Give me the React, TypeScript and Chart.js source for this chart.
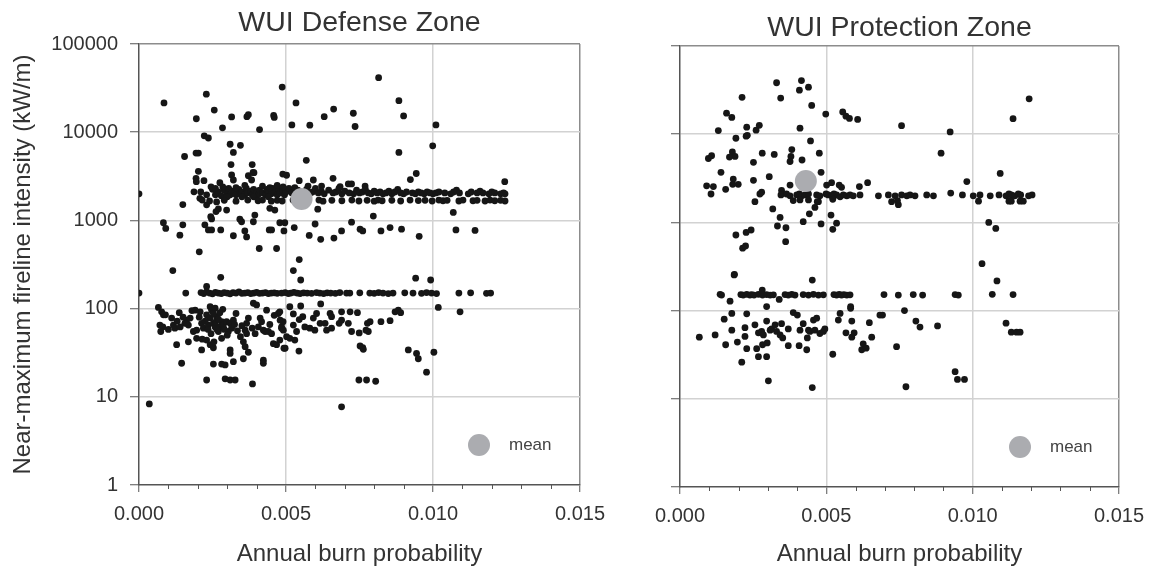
import React, { useEffect, useRef } from "react";
import { Chart, registerables } from "chart.js";

Chart.register(...registerables);

type P = [number, number];

// ---------- axes ----------
const xMajorTicks = [0, 0.005, 0.01, 0.015];
const xMinorTicks = [0.001, 0.002, 0.003, 0.004, 0.006, 0.007, 0.008, 0.009, 0.011, 0.012, 0.013, 0.014];
const yTicks = [1, 10, 100, 1000, 10000, 100000];

// ---------- WUI Defense Zone ----------
const defenseHigh: P[] = [
  [0.00085, 21500], [0.00229, 27000], [0.00487, 32500], [0.00815, 41500], [0.00256, 17800], [0.00195, 14200],
  [0.00315, 14900], [0.00367, 15000], [0.00372, 15800], [0.00458, 15500], [0.0046, 14700], [0.00534, 21500],
  [0.0063, 15000], [0.00662, 18300], [0.00729, 16400], [0.00735, 11600], [0.00884, 22800], [0.009, 15300],
  [0.0101, 12100], [0.00284, 11200], [0.0041, 10700], [0.0052, 12100], [0.00581, 12000], [0.00222, 9100],
  [0.00236, 8600], [0.0031, 7300], [0.00345, 7100], [0.00321, 5900], [0.00194, 5800], [0.00202, 5800],
  [0.00155, 5300], [0.00884, 5900], [0.00999, 7000], [0.00569, 4800], [0.00313, 4300], [0.00385, 4300],
  [0.00202, 3600], [0.00388, 3500], [0.00943, 3400], [0.00923, 2900], [0.00489, 3350], [0.00502, 3250],
  [0.00315, 3270], [0.00372, 3210], [0.00391, 3480], [0.00383, 2870], [0.00321, 2870], [0.0066, 3000],
  [0.00194, 3000], [0.00195, 2750], [0.00221, 2820], [0.00245, 2400], [0.00275, 2680], [0.00712, 2590],
  [0.00723, 2590], [0.01244, 2750], [0.00545, 2820], [0.00593, 2870], [0.00621, 2450], [0.00684, 2410],
  [0.00769, 2450], [0.00187, 2110], [0.00207, 1780], [0.0023, 1500], [0.00149, 1510], [0.00264, 1620],
];

const defenseBandUpper: P[] = [
  [0.0021, 2100], [0.0023, 1950], [0.0025, 2250], [0.0026, 1950], [0.0027, 2100], [0.0028, 1900], [0.0029, 2200],
  [0.003, 2000], [0.00305, 2300], [0.0031, 1950], [0.0032, 2150], [0.00325, 2050], [0.0033, 1950], [0.0034, 2250],
  [0.00345, 2000], [0.0035, 2100], [0.0036, 1950], [0.00365, 2300], [0.0037, 2050], [0.0038, 2150], [0.00385, 1950],
  [0.0039, 2250], [0.004, 2050], [0.00405, 1950], [0.0041, 2200], [0.0042, 2050], [0.0043, 1950], [0.00435, 2250],
  [0.0044, 2100], [0.0045, 2000], [0.00455, 2300], [0.0046, 2150], [0.0047, 1950], [0.00475, 2250], [0.0048, 2050],
  [0.0049, 2200], [0.00495, 1950], [0.005, 2100], [0.0051, 2300], [0.0052, 2050], [0.0053, 2000], [0.0054, 2200],
  [0.0056, 2050], [0.0057, 2250], [0.0058, 2000], [0.0059, 2100], [0.006, 2300], [0.0061, 2050], [0.0062, 2150],
  [0.0063, 2000], [0.00645, 2200], [0.0066, 2050], [0.0067, 2100], [0.0068, 2300], [0.0069, 2000], [0.007, 2150],
  [0.00715, 2050], [0.0073, 2000], [0.0074, 2200], [0.0075, 2050], [0.0076, 2100], [0.0077, 2250], [0.0078, 2050],
  [0.0079, 2000], [0.008, 2150], [0.0081, 2050], [0.0082, 2100], [0.0083, 2000], [0.0084, 2050], [0.0085, 2150],
  [0.0086, 2000], [0.0087, 2100], [0.0088, 2250], [0.0089, 2050], [0.009, 2000], [0.0091, 2100], [0.0093, 2050],
  [0.0094, 2000], [0.0095, 2100], [0.0096, 2050], [0.0097, 2000], [0.0098, 2100], [0.0099, 2050], [0.01, 2000],
  [0.0101, 2050], [0.0102, 2100], [0.0104, 2050], [0.0106, 2000], [0.0107, 2100], [0.0108, 2200], [0.0109, 2050],
  [0.0112, 2000], [0.0113, 2100], [0.0115, 2050], [0.0116, 2150], [0.0117, 2050], [0.0119, 2000], [0.012, 2100],
  [0.0121, 2050], [0.0123, 2000], [0.0124, 2050], [0.01245, 2000],
  [0.00285, 2400], [0.0033, 2350], [0.0036, 2500], [0.0042, 2450], [0.00445, 2350], [0.0047, 2500], [0.0049, 2400],
  [0.0053, 2350], [0.00575, 2450], [0.0026, 2300], [0.0039, 1850], [0.0044, 1850], [0.0035, 1850], [0.003, 1850],
];

const defenseBandLower: P[] = [
  [0.00215, 1700], [0.0024, 1660], [0.0029, 1690], [0.0033, 1650], [0.0037, 1700], [0.00405, 1670], [0.0042, 1700],
  [0.0045, 1650], [0.0047, 1690], [0.00487, 1660], [0.00524, 1700], [0.0055, 1680], [0.00612, 1700], [0.00626, 1650],
  [0.00656, 1690], [0.0069, 1670], [0.00724, 1700], [0.00748, 1660], [0.00776, 1690], [0.008, 1650], [0.00813, 1700],
  [0.00827, 1670], [0.0086, 1690], [0.0089, 1660], [0.00922, 1700], [0.0095, 1680], [0.00973, 1690], [0.00997, 1660],
  [0.0102, 1700], [0.01034, 1670], [0.01048, 1690], [0.01088, 1660], [0.01102, 1700], [0.01136, 1670],
  [0.0115, 1690], [0.01177, 1660], [0.01194, 1700], [0.0121, 1670], [0.0123, 1690], [0.01245, 1660],
];

const defenseMid: P[] = [
  [0, 2000], [0.00083, 940], [0.00091, 810], [0.00139, 680], [0.00149, 890], [0.00205, 440], [0.00224, 890],
  [0.00236, 780], [0.00247, 780], [0.00278, 780], [0.0027, 1350], [0.00262, 1260], [0.00244, 1100], [0.00247, 1040],
  [0.00298, 1310], [0.00343, 1030], [0.00349, 965], [0.00394, 1150], [0.00389, 965], [0.00445, 1370], [0.00462, 1310],
  [0.00321, 670], [0.0036, 760], [0.00366, 650], [0.00409, 480], [0.00468, 480], [0.00443, 780], [0.00451, 780],
  [0.00479, 940], [0.00496, 940], [0.00493, 760], [0.00528, 830], [0.00579, 676], [0.00599, 910], [0.00608, 1340],
  [0.00618, 610], [0.00663, 630], [0.00689, 760], [0.00723, 955], [0.00752, 795], [0.00761, 760], [0.00797, 1120],
  [0.00823, 760], [0.00854, 830], [0.00893, 795], [0.00953, 660], [0.01069, 1230], [0.01078, 780], [0.01143, 770],
  [0.00115, 270], [0.00278, 226], [0.0023, 178], [0.00545, 360], [0.00525, 270], [0.0055, 211], [0.00941, 221],
  [0.00992, 211],
];

const defenseBand150: P[] = [
  [0, 150], [0.00159, 150], [0.00211, 152], [0.0022, 148], [0.0023, 155], [0.0024, 150], [0.0025, 147], [0.0026, 153],
  [0.0027, 150], [0.0028, 148], [0.0029, 152], [0.003, 150], [0.0031, 147], [0.0032, 152], [0.0033, 150], [0.0034, 155],
  [0.0035, 149], [0.0036, 150], [0.0037, 152], [0.0038, 148], [0.0039, 150], [0.004, 153], [0.0041, 149], [0.0042, 150],
  [0.0043, 152], [0.0044, 148], [0.0045, 150], [0.0046, 151], [0.0047, 149], [0.00485, 150], [0.00497, 152],
  [0.00508, 148], [0.00516, 150], [0.00527, 153], [0.00538, 150], [0.00548, 148], [0.0056, 151], [0.00572, 150],
  [0.00587, 149], [0.00604, 152], [0.00615, 150], [0.00628, 148], [0.0064, 151], [0.00652, 150], [0.00668, 149],
  [0.00683, 152], [0.00706, 150], [0.00717, 150], [0.00751, 151], [0.00785, 150], [0.008, 149], [0.00815, 152],
  [0.0083, 150], [0.00848, 148], [0.00864, 150], [0.00904, 151], [0.00932, 150], [0.00961, 149], [0.00978, 152],
  [0.00995, 150], [0.01012, 148], [0.01088, 150], [0.01128, 151], [0.01182, 149], [0.01196, 150],
];

const defenseLow: P[] = [
  [0.00066, 103], [0.00077, 92], [0.00083, 85], [0.00111, 78], [0.00071, 65], [0.00081, 62], [0.00074, 55],
  [0.00117, 65], [0.00122, 60], [0.00137, 90], [0.00162, 74], [0.00156, 68], [0.00168, 65], [0.00174, 78],
  [0.00191, 96], [0.00208, 92], [0.00196, 57], [0.00213, 68], [0.00219, 60], [0.0023, 85], [0.00242, 105],
  [0.00247, 96], [0.00242, 78], [0.00236, 65], [0.00253, 68], [0.00259, 62], [0.00264, 81], [0.0027, 55],
  [0.00276, 62], [0.00281, 71], [0.00287, 65], [0.00298, 71], [0.0031, 68], [0.00321, 74], [0.00304, 55],
  [0.00315, 60], [0.00285, 98], [0.00259, 101], [0.00253, 88], [0.00281, 46], [0.0023, 44], [0.00242, 39],
  [0.00253, 36], [0.00213, 34], [0.00196, 46], [0.00168, 42], [0.00128, 39], [0.00145, 24], [0.0031, 34],
  [0.0031, 31], [0.00321, 25], [0.00253, 23.5], [0.00281, 23.5], [0.00293, 23], [0.00355, 42], [0.00361, 37],
  [0.00372, 32], [0.00355, 27], [0.00366, 68], [0.00372, 78], [0.00361, 57], [0.00366, 52], [0.00389, 115],
  [0.004, 110], [0.00412, 78], [0.00417, 71], [0.00406, 62], [0.00423, 57], [0.00434, 96], [0.00429, 55],
  [0.0044, 55], [0.00451, 52], [0.00457, 40], [0.00468, 39], [0.00474, 88], [0.0048, 74], [0.00485, 62],
  [0.00491, 57], [0.00497, 35.5], [0.00502, 48], [0.00423, 26], [0.00423, 24], [0.0023, 15.5], [0.00293, 16],
  [0.0031, 15.5], [0.00327, 15.5], [0.00386, 14], [0.00035, 8.3],
  [0.00225, 72], [0.00235, 58], [0.00245, 52], [0.0026, 70], [0.0027, 76], [0.0029, 58], [0.003, 50], [0.00325, 66],
  [0.00215, 45], [0.00205, 80], [0.00185, 55], [0.0015, 80], [0.0013, 72], [0.001, 58], [0.0009, 85], [0.00275, 90],
  [0.00335, 56], [0.00345, 48], [0.00385, 60], [0.00395, 52], [0.00445, 66], [0.0046, 84], [0.0014, 62], [0.0018, 95],
  [0.00255, 42], [0.00265, 58], [0.0033, 88], [0.0035, 64],
  [0.00513, 105], [0.0055, 107], [0.00618, 113], [0.00479, 92], [0.00525, 87], [0.00557, 81], [0.00545, 75],
  [0.0049, 71], [0.00485, 60], [0.00525, 65], [0.00536, 55], [0.00513, 46], [0.0053, 44], [0.00479, 44],
  [0.00493, 35.5], [0.00544, 33], [0.00564, 62], [0.00581, 60], [0.00598, 57], [0.00593, 78], [0.00604, 88],
  [0.00616, 68], [0.00633, 68], [0.00638, 57], [0.00655, 60], [0.0065, 88], [0.00655, 81], [0.00681, 68],
  [0.00689, 74], [0.00689, 92], [0.00718, 92], [0.00743, 90], [0.00712, 68], [0.00723, 55], [0.00749, 53],
  [0.00772, 57], [0.0078, 55], [0.00777, 68], [0.00786, 71], [0.00752, 37.7], [0.00761, 36], [0.00763, 34.5],
  [0.00823, 71], [0.00854, 73], [0.00871, 92], [0.00882, 96], [0.0089, 90], [0.00748, 15.5], [0.00774, 15.5],
  [0.00805, 15], [0.00689, 7.7], [0.00916, 34], [0.00944, 31], [0.0095, 27], [0.00978, 19], [0.01003, 32],
  [0.01018, 103], [0.01092, 92],
];

const defenseMean: P[] = [[0.00553, 1750]];

// ---------- WUI Protection Zone ----------
const protectionHigh: P[] = [
  [0.0033, 38300], [0.00415, 40500], [0.00408, 31600], [0.00439, 34100], [0.00212, 26200], [0.00344, 25700],
  [0.0045, 21200], [0.00498, 16900], [0.00556, 17900], [0.00567, 16000], [0.00579, 15100], [0.00607, 14700],
  [0.00159, 17300], [0.00177, 15500], [0.01193, 25200], [0.01138, 15000], [0.00757, 12500], [0.00923, 10600],
  [0.00131, 11000], [0.00228, 12000], [0.00226, 9500], [0.0026, 11100], [0.00271, 12600], [0.0041, 11700],
  [0.00191, 9000], [0.0023, 9700], [0.00446, 8400], [0.00179, 6300], [0.00188, 5600], [0.00169, 5500],
  [0.00097, 5300], [0.00108, 5700], [0.00281, 6100], [0.00322, 5900], [0.00382, 6700], [0.00379, 5600],
  [0.00376, 4900], [0.00417, 5100], [0.00476, 6100], [0.00251, 4800], [0.00892, 6100], [0.0014, 3700],
  [0.00182, 3100], [0.00199, 2700], [0.0018, 2700], [0.00305, 3300], [0.00251, 3000], [0.00482, 3700],
  [0.00091, 2600], [0.00114, 2550], [0.00156, 2370], [0.00347, 2300], [0.00376, 2650], [0.00501, 2650],
  [0.00518, 2820], [0.00544, 2650], [0.00552, 2500], [0.00613, 2550], [0.00641, 2820], [0.0098, 2900],
  [0.01094, 3590], [0.00279, 2200],
];

const protectionBand: P[] = [
  [0.00106, 2100], [0.00273, 2100], [0.00345, 2050], [0.00364, 2100], [0.00376, 2000], [0.00399, 2050],
  [0.00408, 2100], [0.00416, 2000], [0.00427, 2050], [0.00439, 2100], [0.00467, 2050], [0.00478, 2000],
  [0.00499, 2100], [0.00507, 2050], [0.00518, 2000], [0.00526, 2100], [0.00535, 2050], [0.00547, 1950],
  [0.00558, 2050], [0.0057, 2000], [0.00581, 2050], [0.00592, 2000], [0.00615, 2050], [0.00678, 2000],
  [0.00712, 2050], [0.00735, 2000], [0.00757, 2050], [0.00775, 2000], [0.00786, 2050], [0.00803, 2000],
  [0.00843, 2050], [0.00866, 2000], [0.00925, 2150], [0.00965, 2050], [0.01002, 2000], [0.01025, 2050],
  [0.0106, 2000], [0.0109, 2050], [0.01114, 2000], [0.01124, 2100], [0.01132, 2050], [0.01144, 2000],
  [0.01156, 2100], [0.01164, 2050], [0.01191, 2000], [0.01203, 2050],
  [0.00387, 1770], [0.0041, 1800], [0.00439, 1800], [0.00473, 1720], [0.00524, 1950], [0.00522, 1830],
  [0.00723, 1720], [0.00746, 1590], [0.00743, 1770], [0.0102, 1740], [0.01124, 1740], [0.01132, 1740],
  [0.01162, 1740], [0.01173, 1740], [0.00256, 1720],
];

const protectionMid: P[] = [
  [0.00317, 1420], [0.00342, 1140], [0.00333, 910], [0.00362, 870], [0.00361, 605], [0.00191, 720], [0.00226, 770],
  [0.00243, 820], [0.00214, 510], [0.00224, 540], [0.00186, 258], [0.00452, 222], [0.00421, 1020], [0.00442, 1250],
  [0.00461, 1480], [0.00469, 1720], [0.00482, 960], [0.00516, 1210], [0.00535, 980], [0.00522, 835], [0.01055, 1000],
  [0.01079, 855], [0.01032, 340], [0.01083, 217],
];

const protectionBand150: P[] = [
  [0.00137, 153], [0.00142, 150], [0.00208, 152], [0.00216, 150], [0.00228, 153], [0.00239, 150], [0.00245, 152],
  [0.00253, 150], [0.00268, 153], [0.00282, 150], [0.00296, 152], [0.00308, 150], [0.00319, 151], [0.00359, 152],
  [0.0037, 150], [0.00382, 153], [0.00393, 150], [0.00421, 152], [0.00439, 150], [0.00456, 153], [0.00473, 150],
  [0.0049, 151], [0.00526, 152], [0.00535, 150], [0.00544, 153], [0.00552, 150], [0.0056, 152], [0.0057, 150],
  [0.00581, 151], [0.00697, 152], [0.00746, 150], [0.00797, 152], [0.00829, 150], [0.0094, 152], [0.00951, 150],
  [0.01067, 153], [0.01138, 152], [0.00185, 254], [0.00281, 171], [0.00171, 128], [0.00339, 134], [0.00296, 111],
];

const protectionLow: P[] = [
  [0.00066, 50], [0.0012, 53], [0.00156, 41], [0.00151, 80], [0.00177, 93], [0.00177, 60], [0.00196, 44],
  [0.00211, 26], [0.00222, 64], [0.00222, 51], [0.00228, 92], [0.00228, 37], [0.00256, 69], [0.00262, 37],
  [0.00268, 30], [0.00268, 56], [0.00279, 58], [0.00285, 53], [0.00282, 41], [0.00296, 76], [0.00298, 43],
  [0.00296, 30], [0.00302, 16], [0.00308, 60], [0.00313, 62], [0.00325, 69], [0.0033, 58], [0.00342, 53],
  [0.00347, 71], [0.00351, 49], [0.0037, 62], [0.0037, 40], [0.00387, 95], [0.00401, 89], [0.0041, 60],
  [0.00407, 40], [0.00421, 71], [0.00433, 36], [0.00435, 49], [0.00439, 60], [0.00444, 58], [0.00456, 78],
  [0.00461, 60], [0.00467, 82], [0.00478, 55], [0.0049, 58], [0.00495, 62], [0.00452, 13.4], [0.00522, 32],
  [0.00541, 78], [0.00547, 93], [0.00567, 56], [0.00583, 111], [0.00583, 106], [0.00587, 76], [0.00587, 50],
  [0.00595, 56], [0.00626, 42], [0.00621, 36], [0.00636, 37.5], [0.00647, 73], [0.00655, 50], [0.00683, 89],
  [0.00692, 89], [0.0074, 39], [0.00767, 100], [0.00772, 13.7], [0.00806, 76], [0.0082, 65], [0.0088, 67],
  [0.0094, 20.3], [0.00948, 16.6], [0.00972, 16.6], [0.01114, 72], [0.01132, 57], [0.0115, 57], [0.01162, 57],
];

const protectionMean: P[] = [[0.0043, 2950]];

// ---------- styling ----------
const FONT = "'Liberation Sans', Arial, Helvetica, sans-serif";
const INK = "#333333";
const AXIS = "#555555";
const GRID = "#d2d2d2";
const FRAME = "#8c8c8c";
const DOT = "#161616";
const MEAN = "#abacb0";

interface PanelSpec {
  title: string;
  yTitle: string | null;
  groups: P[][];
  mean: P[];
  yWidth: number;
  xHeight: number;
  titlePad: { top: number; bottom: number };
  rightPad: number;
}

function buildConfig(spec: PanelSpec): any {
  const pts = spec.groups.flat().map(([x, y]) => ({ x, y }));
  const extras = {
    id: "extras",
    afterDraw(chart: any) {
      const { ctx, chartArea, scales } = chart;
      const xs = scales.x;
      ctx.save();
      ctx.strokeStyle = AXIS;
      ctx.lineWidth = 1;
      for (const v of xMinorTicks) {
        const px = Math.round(xs.getPixelForValue(v)) + 0.5;
        ctx.beginPath();
        ctx.moveTo(px, chartArea.bottom);
        ctx.lineTo(px, chartArea.bottom + 4);
        ctx.stroke();
      }
      const cx = chartArea.left + 340;
      const cy = chartArea.bottom - 40;
      ctx.fillStyle = MEAN;
      ctx.beginPath();
      ctx.arc(cx, cy, 11, 0, Math.PI * 2);
      ctx.fill();
      ctx.fillStyle = "#444444";
      ctx.font = `17px ${FONT}`;
      ctx.textBaseline = "middle";
      ctx.textAlign = "left";
      ctx.fillText("mean", cx + 30, cy);
      ctx.restore();
    },
  };

  return {
    type: "scatter",
    data: {
      datasets: [
        {
          label: "mean",
          data: spec.mean.map(([x, y]) => ({ x, y })),
          backgroundColor: MEAN,
          pointRadius: 11,
          pointBorderWidth: 0,
          order: 0,
        },
        {
          label: "points",
          data: pts,
          backgroundColor: DOT,
          pointRadius: 3.4,
          pointBorderWidth: 0,
          order: 1,
        },
      ],
    },
    options: {
      responsive: false,
      animation: false,
      events: [],
      layout: { padding: { left: 0, right: spec.rightPad, top: 0, bottom: 0 } },
      plugins: {
        legend: { display: false },
        tooltip: { enabled: false },
        title: {
          display: true,
          text: spec.title,
          fullSize: false,
          color: INK,
          font: { family: FONT, size: 28.5, weight: "normal", lineHeight: 1.2 },
          padding: spec.titlePad,
        },
      },
      scales: {
        x: {
          type: "linear",
          min: 0,
          max: 0.015,
          afterBuildTicks: (scale: any) => {
            scale.ticks = xMajorTicks.map((v) => ({ value: v }));
          },
          afterFit: (scale: any) => {
            scale.height = spec.xHeight;
          },
          ticks: {
            autoSkip: false,
            maxRotation: 0,
            color: INK,
            font: { family: FONT, size: 20 },
            padding: 10,
            callback: (v: any) => Number(v).toFixed(3),
          },
          grid: {
            color: (ctx: any) => {
              const v = ctx.tick ? ctx.tick.value : null;
              if (v === 0.015) return FRAME;
              if (v === 0.005 || v === 0.01) return GRID;
              return "rgba(0,0,0,0)";
            },
            lineWidth: 1.5,
            tickColor: AXIS,
            tickLength: 7,
            tickWidth: 1,
          },
          border: { color: AXIS, width: 1.5 },
          title: {
            display: true,
            text: "Annual burn probability",
            color: INK,
            font: { family: FONT, size: 24, lineHeight: 1.2 },
            padding: { top: 0, bottom: 2 },
          },
        },
        y: {
          type: "logarithmic",
          min: 1,
          max: 100000,
          afterBuildTicks: (scale: any) => {
            scale.ticks = yTicks.map((v) => ({ value: v }));
          },
          afterFit: (scale: any) => {
            scale.width = spec.yWidth;
          },
          ticks: {
            autoSkip: false,
            color: INK,
            font: { family: FONT, size: 20 },
            padding: 12,
            callback: (v: any) => (spec.yTitle ? String(v) : ""),
          },
          grid: {
            color: (ctx: any) => {
              const v = ctx.tick ? ctx.tick.value : null;
              if (v === 100000) return FRAME;
              if (v === 1) return "rgba(0,0,0,0)";
              return GRID;
            },
            lineWidth: 1.5,
            tickColor: AXIS,
            tickLength: 9,
            tickWidth: 1,
          },
          border: { color: AXIS, width: 1.5 },
          title: {
            display: !!spec.yTitle,
            text: spec.yTitle || "",
            color: INK,
            font: { family: FONT, size: 24, lineHeight: 1.2 },
            padding: { top: 9, bottom: 0 },
          },
        },
      },
    },
    plugins: [extras],
  };
}

const defenseSpec: PanelSpec = {
  title: "WUI Defense Zone",
  yTitle: "Near-maximum fireline intensity (kW/m)",
  groups: [defenseHigh, defenseBandUpper, defenseBandLower, defenseMid, defenseBand150, defenseLow],
  mean: defenseMean,
  yWidth: 139,
  xHeight: 86,
  titlePad: { top: 6.5, bottom: 3.3 },
  rightPad: 40,
};

const protectionSpec: PanelSpec = {
  title: "WUI Protection Zone",
  yTitle: null,
  groups: [protectionHigh, protectionBand, protectionMid, protectionBand150, protectionLow],
  mean: protectionMean,
  yWidth: 70,
  xHeight: 84,
  titlePad: { top: 11, bottom: 0.8 },
  rightPad: 43,
};

function Panel({ spec, left, width }: { spec: PanelSpec; left: number; width: number }) {
  const ref = useRef<HTMLCanvasElement>(null);
  useEffect(() => {
    if (!ref.current) return;
    const chart = new Chart(ref.current, buildConfig(spec));
    return () => chart.destroy();
  }, [spec]);
  return (
    <canvas
      ref={ref}
      width={width}
      height={571}
      style={{ position: "absolute", left, top: 0, width, height: 571 }}
    />
  );
}

export default function App() {
  return (
    <div
      style={{
        position: "absolute",
        left: 0,
        top: 0,
        width: 1162,
        height: 571,
        background: "#ffffff",
        overflow: "hidden",
      }}
    >
      <Panel spec={defenseSpec} left={0} width={620} />
      <Panel spec={protectionSpec} left={610} width={552} />
    </div>
  );
}
